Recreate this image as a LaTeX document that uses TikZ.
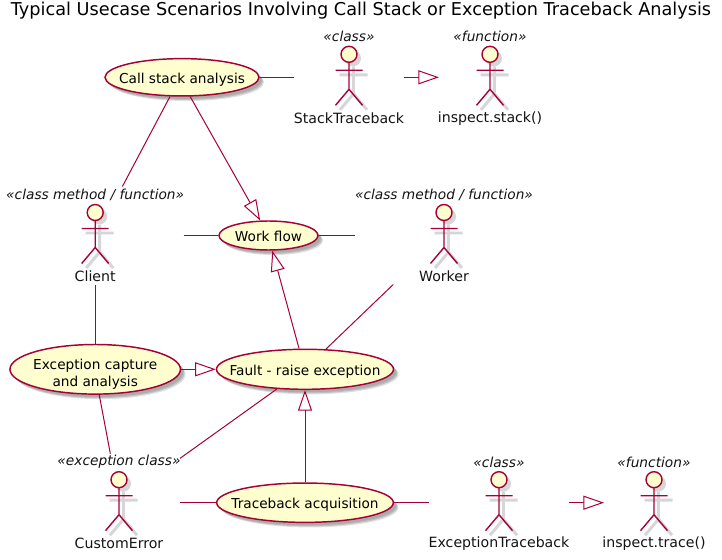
\documentclass[tikz,border=0pt]{standalone}
\usepackage{fontspec}
\setmainfont{DejaVu Sans}
\usetikzlibrary{shapes.geometric,shadows,arrows.meta}
\definecolor{umlline}{HTML}{A80036}
\definecolor{umlfill}{HTML}{FEFECE}
\newcommand{\uctext}[2][-0.42em]{\makebox[0pt]{\smash{\raisebox{#1}{\begin{tabular}{@{}c@{}}#2\end{tabular}}}}}
\tikzset{
  x=0.75pt,y=-0.75pt,
  softshadow/.style={
    general shadow={shadow xshift=2.2pt,shadow yshift=-2.2pt,fill=black,opacity=0.10},
    general shadow={shadow xshift=3.0pt,shadow yshift=-3.0pt,fill=black,opacity=0.14},
    general shadow={shadow xshift=3.8pt,shadow yshift=-3.8pt,fill=black,opacity=0.12}},
  usecase/.style={ellipse,draw=umlline,fill=umlfill,line width=1.1pt,inner sep=0pt,font=\fontsize{10.25pt}{12.8pt}\selectfont,softshadow},
  actorbox/.style={rectangle,inner sep=0pt,outer sep=0pt},
  actorline/.style={draw=umlline,line width=1.05pt},
  actorshadow/.style={draw=black!16,line width=2.2pt},
  actorlabel/.style={font=\fontsize{10.6pt}{12pt}\selectfont,text=black!92,inner sep=0pt},
  stereo/.style={font=\fontsize{10.3pt}{12pt}\selectfont\itshape,text=black!92,inner sep=0pt},
  assoc/.style={draw=umlline,line width=0.75pt},
  extends/.style={assoc,-{Triangle[open,fill=white,length=15.5pt,width=10.5pt]}},
}
% name, x of figure, y of head, box width, label, stereotype
\newcommand{\umlactor}[6]{%
  \node[actorbox,minimum width=#4*0.75pt,minimum height=73.5pt] (#1) at (#2,#3+23) {};
  \fill[black!16] (#2+4,#3+4) circle[radius=8];
  \draw[actorshadow] (#2+4.5,#3+12) -- (#2+4.5,#3+39.5) (#2-9.5,#3+20.5) -- (#2+18.5,#3+20.5)
     (#2+4.5,#3+39.5) -- (#2-9,#3+55.5) (#2+4.5,#3+39.5) -- (#2+18,#3+55.5);
  \filldraw[actorline,fill=umlfill] (#2,#3) circle[radius=8];
  \draw[actorline] (#2,#3+8) -- (#2,#3+35) (#2-13.5,#3+16) -- (#2+13.5,#3+16)
     (#2,#3+35) -- (#2-13.5,#3+51) (#2,#3+35) -- (#2+13.5,#3+51);
  \node[actorlabel] (#1-label) at (#2,#3+64) {#5};
  \node[stereo] (#1-stereo) at (#2,#3-17.5) {#6};
}
\begin{document}
\begin{tikzpicture}
\useasboundingbox[fill=white] (0,0) rectangle (722,560);
\node[font=\fontsize{13.27pt}{16pt}\selectfont,inner sep=0pt] (title) at (361,10.5) {Typical Usecase Scenarios Involving Call Stack or Exception Traceback Analysis};

\node[usecase,minimum width=115.5pt,minimum height=28pt] (cs) at (182,77.3) {\uctext{Call stack analysis}};
\node[usecase,minimum width=74.25pt,minimum height=21.75pt] (wf) at (268.5,235.5) {\uctext{Work flow}};
\node[usecase,minimum width=127.9pt,minimum height=37.2pt] (ec) at (95.2,369.3) {\uctext[-0.62em]{Exception capture\\and analysis}};
\node[usecase,minimum width=132.75pt,minimum height=30pt] (fr) at (305,369.3) {\uctext{Fault - raise exception}};
\node[usecase,minimum width=132.5pt,minimum height=29.5pt] (tb) at (305,502.7) {\uctext{Traceback acquisition}};

\umlactor{st}{349}{54.3}{110}{StackTraceback}{«class»}
\umlactor{is}{490}{54.3}{102}{inspect.stack()}{«function»}
\umlactor{client}{95.2}{212.5}{177}{Client}{«class method / function»}
\umlactor{worker}{444}{212.5}{179}{Worker}{«class method / function»}
\umlactor{ce}{119}{479.7}{122}{CustomError}{«exception class»}
\umlactor{et}{499}{479.7}{140}{ExceptionTraceback}{«class»}
\umlactor{it}{654}{479.7}{100}{inspect.trace()}{«function»}

\draw[assoc] (cs) -- (st);
\draw[extends] (st) -- (is);
\draw[assoc] (cs.238) -- (client.61);
\draw[extends] (cs.293) -- (wf.119);
\draw[assoc] (client) -- (wf);
\draw[assoc] (wf) -- (worker);
\draw[assoc] (client.south) -- (ec.north);
\draw[extends] (fr.106) -- (wf.284);
\draw[assoc] (worker.224) -- (fr.44);
\draw[extends] (ec) -- (fr);
\draw[assoc] (ec.279.5) -- (ce.100.4);
\draw[assoc] (fr.215) -- (ce.36.4);
\draw[extends] (tb) -- (fr);
\draw[assoc] (ce) -- (tb);
\draw[assoc] (tb) -- (et);
\draw[extends] (et) -- (it);
\end{tikzpicture}
\end{document}
